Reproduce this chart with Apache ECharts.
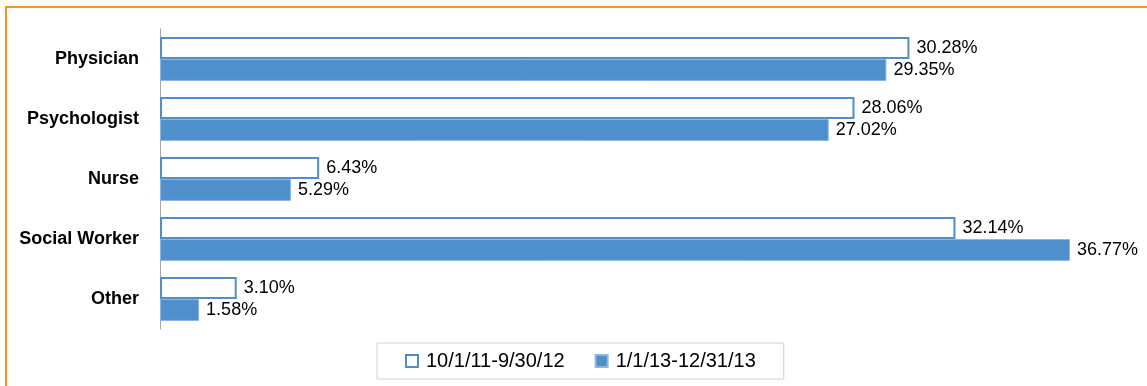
<!DOCTYPE html>
<html>
<head>
<meta charset="utf-8">
<script src="https://cdn.jsdelivr.net/npm/echarts@6/dist/echarts.min.js"></script>
<style>
  html, body { margin: 0; padding: 0; background: #fff; }
  #chart { width: 1147px; height: 386px; }
</style>
</head>
<body>
<div id="chart"></div>
<script>
// Professions of respondents, share by period (%)
const categories = ['Physician', 'Psychologist', 'Nurse', 'Social Worker', 'Other'];
const periodA = [30.28, 28.06, 6.43, 32.14, 3.10];
const periodB = [29.35, 27.02, 5.29, 36.77, 1.58];
const seriesNames = ['10/1/11-9/30/12', '1/1/13-12/31/13'];

const BLUE = '#4f8fcc';
const FONT = '"Liberation Sans", Arial, sans-serif';

const chart = echarts.init(document.getElementById('chart'), null, { renderer: 'canvas' });

const labelStyle = {
  show: true,
  position: 'right',
  distance: 7,
  color: '#000',
  fontFamily: FONT,
  fontSize: 18,
  formatter: p => p.value.toFixed(2) + '%'
};

chart.setOption({
  animation: false,
  backgroundColor: '#fff',
  graphic: [{
    type: 'rect',
    shape: { x: 6, y: 7, width: 1150, height: 400 },
    style: { fill: 'none', stroke: '#f7941d', lineWidth: 2 },
    silent: true,
    z: 0
  }],
  grid: { left: 160, top: 29, width: 940.5, height: 300, containLabel: false },
  xAxis: {
    type: 'value',
    min: 0,
    max: 38,
    show: false
  },
  yAxis: {
    type: 'category',
    data: categories,
    inverse: true,
    axisLine: { show: true, lineStyle: { color: '#a6a6a6', width: 1 } },
    axisTick: { show: false },
    axisLabel: {
      margin: 21,
      color: '#000',
      fontFamily: FONT,
      fontSize: 18,
      fontWeight: 'bold'
    }
  },
  legend: {
    left: 377,
    top: 343,
    padding: [8, 28, 8, 28],
    borderColor: '#d0d0d0',
    borderWidth: 1,
    itemWidth: 12,
    itemHeight: 12,
    itemGap: 30,
    icon: 'rect',
    textStyle: { color: '#000', fontFamily: FONT, fontSize: 20, padding: [0, 0, 0, 3] },
    data: seriesNames
  },
  series: [
    {
      name: seriesNames[0],
      type: 'bar',
      data: periodA,
      barGap: '0%',
      barCategoryGap: '27%',
      itemStyle: { color: '#fff', borderColor: BLUE, borderWidth: 2 },
      label: labelStyle
    },
    {
      name: seriesNames[1],
      type: 'bar',
      data: periodB,
      barGap: '0%',
      barCategoryGap: '27%',
      itemStyle: { color: BLUE, borderColor: '#8db6e0', borderWidth: 1 },
      label: labelStyle
    }
  ]
});
</script>
</body>
</html>
